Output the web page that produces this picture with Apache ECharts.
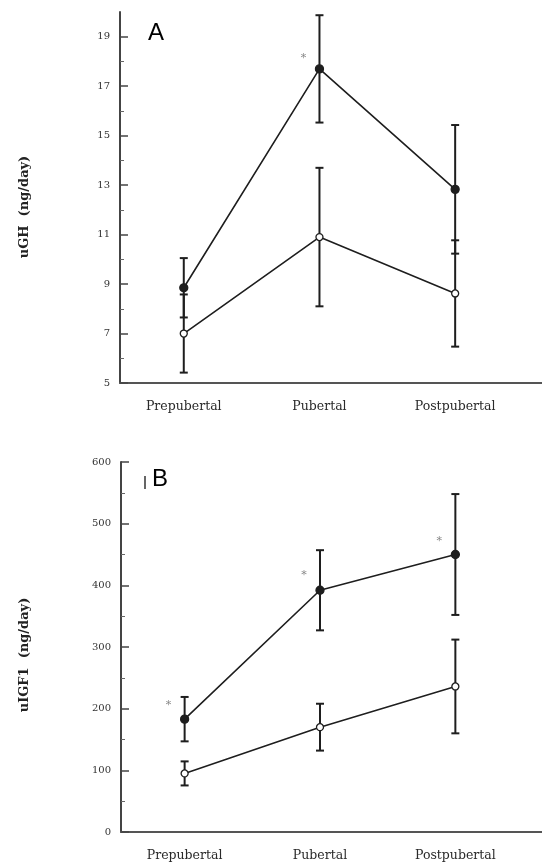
<!DOCTYPE html>
<html><head><meta charset="utf-8">
<script src="https://cdn.jsdelivr.net/npm/echarts@6/dist/echarts.min.js"></script>
<style>html,body{margin:0;padding:0;background:#fff}#c{width:542px;height:865px}</style>
</head><body><div id="c"></div>
<script>
const categories = ['Prepubertal', 'Pubertal', 'Postpubertal'];
// Panel A: uGH (ng/day)
const ghFilledMean = [8.85, 17.7, 12.83];
const ghFilledErr = [1.2, 2.17, 2.6];
const ghOpenMean = [7.0, 10.9, 8.62];
const ghOpenErr = [1.58, 2.8, 2.15];
const ghTicks = [5, 7, 9, 11, 13, 15, 17, 19];
const ghMinorTicks = [6, 8, 10, 12, 14, 16, 18];
const ghStars = [[1, 18.15]];
// Panel B: uIGF1 (ng/day)
const igfFilledMean = [183, 392, 450];
const igfFilledErr = [36, 65, 98];
const igfOpenMean = [95, 170, 236];
const igfOpenErr = [19.5, 38, 76];
const igfTicks = [0, 100, 200, 300, 400, 500, 600];
const igfMinorTicks = [50, 150, 250, 350, 450, 550];
const igfStars = [[0, 205], [1, 417], [2, 471]];

const serif = 'DejaVu Serif';
const ink = '#1e1e1e';

function errSeries(xi, yi, means, errs) {
  return {
    type: 'custom', xAxisIndex: xi, yAxisIndex: yi, z: 2, silent: true,
    data: means.map((m, i) => [i + 1, m - errs[i], m + errs[i]]),
    renderItem: function (params, api) {
      const x = api.value(0);
      const lo = api.coord([x, api.value(1)]);
      const hi = api.coord([x, api.value(2)]);
      const w = 4;
      const st = {stroke: ink, lineWidth: 2};
      return {type: 'group', children: [
        {type: 'line', shape: {x1: lo[0], y1: lo[1], x2: hi[0], y2: hi[1]}, style: st},
        {type: 'line', shape: {x1: lo[0] - w, y1: lo[1], x2: lo[0] + w, y2: lo[1]}, style: st},
        {type: 'line', shape: {x1: hi[0] - w, y1: hi[1], x2: hi[0] + w, y2: hi[1]}, style: st}
      ]};
    }
  };
}
function lineSeries(xi, yi, means, filled) {
  return {
    type: 'line', xAxisIndex: xi, yAxisIndex: yi, z: 3, silent: true,
    data: means.map((m, i) => [i + 1, m]),
    symbol: 'circle', symbolSize: filled ? 8 : 7,
    lineStyle: {color: ink, width: 1.6},
    itemStyle: {color: filled ? ink : '#fff', borderColor: ink, borderWidth: 1.3}
  };
}
function starSeries(xi, yi, stars) {
  return {
    type: 'scatter', xAxisIndex: xi, yAxisIndex: yi, silent: true,
    data: stars.map(s => [s[0] + 1, s[1]]),
    symbolSize: 0,
    label: {show: true, formatter: '*', position: 'inside', offset: [-16, 0],
      color: '#666', fontFamily: serif, fontSize: 11}
  };
}
function xAxis(gi) {
  return {
    type: 'value', gridIndex: gi, min: 0.53, max: 3.64,
    splitLine: {show: false},
    axisLine: {show: true, lineStyle: {color: '#555', width: 2}},
    axisTick: {show: false},
    axisLabel: {customValues: [1, 2, 3], formatter: v => categories[Math.round(v) - 1] || '',
      fontFamily: serif, fontSize: 12.5, color: '#2a2a2a', margin: 17}
  };
}
function yAxisMajor(gi, min, max, ticks) {
  return {
    type: 'value', gridIndex: gi, min: min, max: max, position: 'left',
    splitLine: {show: false},
    axisLine: {show: true, lineStyle: {color: '#444', width: 2}},
    axisTick: {show: true, inside: true, length: 8, customValues: ticks, lineStyle: {color: '#444', width: 1.5}},
    axisLabel: {customValues: ticks, fontFamily: serif, fontSize: 10, color: '#333', margin: 10}
  };
}
function yAxisMinor(gi, min, max, ticks) {
  return {
    type: 'value', gridIndex: gi, min: min, max: max, position: 'left', offset: 0,
    splitLine: {show: false},
    axisLine: {show: false},
    axisTick: {show: true, inside: true, length: 4, customValues: ticks, lineStyle: {color: '#666', width: 1}},
    axisLabel: {show: false}
  };
}

const chart = echarts.init(document.getElementById('c'));
chart.setOption({
  animation: false,
  backgroundColor: '#fff',
  grid: [
    {left: 120, top: 12, right: 0, height: 371},
    {left: 121, top: 462, right: 0, height: 370}
  ],
  xAxis: [xAxis(0), xAxis(1)],
  yAxis: [
    yAxisMajor(0, 5, 20, ghTicks), yAxisMinor(0, 5, 20, ghMinorTicks),
    yAxisMajor(1, 0, 600, igfTicks), yAxisMinor(1, 0, 600, igfMinorTicks)
  ],
  graphic: [
    {type: 'text', left: 148, top: 21, style: {text: 'A', font: '24px "Liberation Sans"', fill: '#000'}},
    {type: 'text', left: 152, top: 467, style: {text: 'B', font: '24px "Liberation Sans"', fill: '#000'}},
    {type: 'rect', left: 144, top: 476, shape: {width: 2, height: 13}, style: {fill: '#666'}},
    {type: 'text', x: 25, y: 207, rotation: Math.PI / 2,
      style: {text: 'uGH  (ng/day)', font: 'bold 13px "DejaVu Serif"', fill: '#222', align: 'center', verticalAlign: 'middle'}},
    {type: 'text', x: 25, y: 655, rotation: Math.PI / 2,
      style: {text: 'uIGF1  (ng/day)', font: 'bold 13px "DejaVu Serif"', fill: '#222', align: 'center', verticalAlign: 'middle'}}
  ],
  series: [
    errSeries(0, 0, ghFilledMean, ghFilledErr),
    errSeries(0, 0, ghOpenMean, ghOpenErr),
    lineSeries(0, 0, ghFilledMean, true),
    lineSeries(0, 0, ghOpenMean, false),
    starSeries(0, 0, ghStars),
    errSeries(1, 2, igfFilledMean, igfFilledErr),
    errSeries(1, 2, igfOpenMean, igfOpenErr),
    lineSeries(1, 2, igfFilledMean, true),
    lineSeries(1, 2, igfOpenMean, false),
    starSeries(1, 2, igfStars)
  ]
});
</script></body></html>
